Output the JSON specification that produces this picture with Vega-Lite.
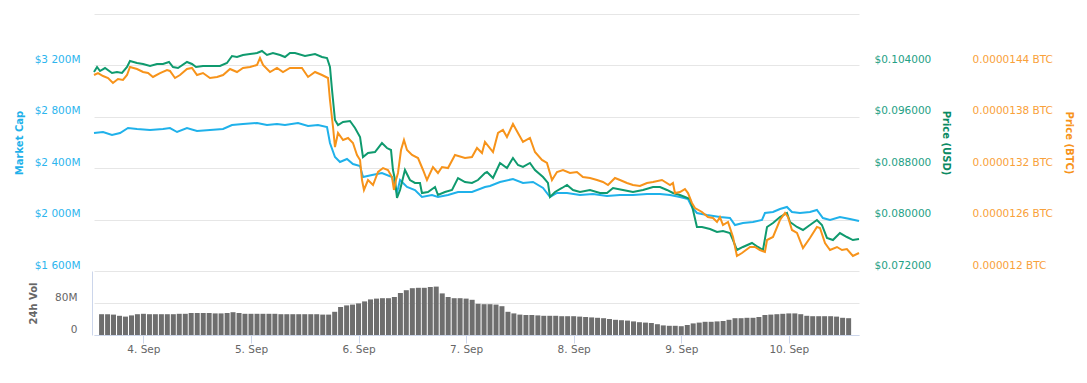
{
  "$schema": "https://vega.github.io/schema/vega-lite/v6.json",
  "background": "white",
  "padding": {"left": 14, "top": 14, "right": 5, "bottom": 5},
  "spacing": 0,
  "bounds": "flush",
  "config": {
    "view": {"stroke": null},
    "font": "DejaVu Sans",
    "axis": {"labelFontSize": 10.5, "titleFontSize": 10, "titleFontWeight": "bold", "ticks": false, "domain": false, "gridColor": "#e6e6e6", "gridWidth": 1}
  },
  "datasets": {
    "marketCap": [
      {"day":3.587,"mcap":2673.9},{"day":3.670,"mcap":2681.7},{"day":3.752,"mcap":2658.3},{"day":3.826,"mcap":2673.9},{"day":3.899,"mcap":2712.8},{"day":3.982,"mcap":2705.1},{"day":4.101,"mcap":2697.3},{"day":4.220,"mcap":2705.1},{"day":4.284,"mcap":2712.8},{"day":4.349,"mcap":2681.7},{"day":4.440,"mcap":2712.8},{"day":4.532,"mcap":2689.5},{"day":4.651,"mcap":2697.3},{"day":4.771,"mcap":2705.1},{"day":4.853,"mcap":2736.2},{"day":4.954,"mcap":2744.0},{"day":5.083,"mcap":2751.8},{"day":5.174,"mcap":2736.2},{"day":5.266,"mcap":2744.0},{"day":5.339,"mcap":2736.2},{"day":5.459,"mcap":2751.8},{"day":5.551,"mcap":2728.4},{"day":5.642,"mcap":2736.2},{"day":5.725,"mcap":2720.6},{"day":5.752,"mcap":2596.1},{"day":5.798,"mcap":2487.2},{"day":5.844,"mcap":2448.2},{"day":5.908,"mcap":2471.6},{"day":5.963,"mcap":2432.7},{"day":6.028,"mcap":2417.1},{"day":6.055,"mcap":2331.5},{"day":6.138,"mcap":2347.1},{"day":6.229,"mcap":2362.6},{"day":6.321,"mcap":2331.5},{"day":6.367,"mcap":2207.0},{"day":6.395,"mcap":2308.2},{"day":6.459,"mcap":2253.7},{"day":6.532,"mcap":2230.3},{"day":6.596,"mcap":2175.9},{"day":6.688,"mcap":2191.4},{"day":6.743,"mcap":2175.9},{"day":6.835,"mcap":2191.4},{"day":6.927,"mcap":2214.8},{"day":7.055,"mcap":2214.8},{"day":7.174,"mcap":2253.7},{"day":7.220,"mcap":2261.5},{"day":7.312,"mcap":2292.6},{"day":7.431,"mcap":2316.0},{"day":7.523,"mcap":2284.8},{"day":7.615,"mcap":2292.6},{"day":7.707,"mcap":2245.9},{"day":7.771,"mcap":2175.9},{"day":7.835,"mcap":2207.0},{"day":7.927,"mcap":2207.0},{"day":8.046,"mcap":2191.4},{"day":8.165,"mcap":2199.2},{"day":8.294,"mcap":2183.7},{"day":8.413,"mcap":2191.4},{"day":8.532,"mcap":2191.4},{"day":8.661,"mcap":2199.2},{"day":8.780,"mcap":2199.2},{"day":8.872,"mcap":2191.4},{"day":8.963,"mcap":2175.9},{"day":9.037,"mcap":2160.3},{"day":9.073,"mcap":2098.1},{"day":9.119,"mcap":2051.4},{"day":9.211,"mcap":2035.8},{"day":9.330,"mcap":2020.2},{"day":9.422,"mcap":2012.4},{"day":9.468,"mcap":1958.0},{"day":9.541,"mcap":1973.5},{"day":9.633,"mcap":1981.3},{"day":9.716,"mcap":1996.9},{"day":9.743,"mcap":2051.4},{"day":9.817,"mcap":2059.1},{"day":9.881,"mcap":2082.5},{"day":9.945,"mcap":2098.1},{"day":9.991,"mcap":2059.1},{"day":10.064,"mcap":2051.4},{"day":10.156,"mcap":2059.1},{"day":10.220,"mcap":2074.7},{"day":10.275,"mcap":2012.4},{"day":10.340,"mcap":1996.9},{"day":10.431,"mcap":2020.2},{"day":10.523,"mcap":2004.7},{"day":10.606,"mcap":1989.1}
    ],
    "priceUsd": [
      {"day":3.587,"usd":0.10297},{"day":3.615,"usd":0.10375},{"day":3.642,"usd":0.10313},{"day":3.688,"usd":0.10359},{"day":3.752,"usd":0.10282},{"day":3.798,"usd":0.10297},{"day":3.844,"usd":0.10282},{"day":3.890,"usd":0.10375},{"day":3.917,"usd":0.10468},{"day":3.982,"usd":0.10437},{"day":4.037,"usd":0.10422},{"day":4.101,"usd":0.10391},{"day":4.165,"usd":0.10422},{"day":4.220,"usd":0.10422},{"day":4.275,"usd":0.10453},{"day":4.312,"usd":0.10375},{"day":4.358,"usd":0.10359},{"day":4.440,"usd":0.10453},{"day":4.486,"usd":0.10422},{"day":4.523,"usd":0.10375},{"day":4.587,"usd":0.10391},{"day":4.651,"usd":0.10391},{"day":4.743,"usd":0.10391},{"day":4.807,"usd":0.10437},{"day":4.853,"usd":0.10546},{"day":4.899,"usd":0.10531},{"day":4.954,"usd":0.10562},{"day":5.018,"usd":0.10577},{"day":5.083,"usd":0.10593},{"day":5.128,"usd":0.10624},{"day":5.174,"usd":0.10562},{"day":5.229,"usd":0.10593},{"day":5.294,"usd":0.10562},{"day":5.339,"usd":0.10531},{"day":5.385,"usd":0.10593},{"day":5.431,"usd":0.10593},{"day":5.523,"usd":0.10546},{"day":5.615,"usd":0.10577},{"day":5.679,"usd":0.10531},{"day":5.725,"usd":0.10515},{"day":5.752,"usd":0.10375},{"day":5.771,"usd":0.10017},{"day":5.798,"usd":0.09550},{"day":5.826,"usd":0.09472},{"day":5.872,"usd":0.09519},{"day":5.936,"usd":0.09535},{"day":5.982,"usd":0.09426},{"day":6.028,"usd":0.09286},{"day":6.055,"usd":0.08974},{"day":6.101,"usd":0.09037},{"day":6.165,"usd":0.09052},{"day":6.229,"usd":0.09192},{"day":6.275,"usd":0.09114},{"day":6.312,"usd":0.09083},{"day":6.330,"usd":0.08772},{"day":6.349,"usd":0.08616},{"day":6.367,"usd":0.08336},{"day":6.395,"usd":0.08461},{"day":6.440,"usd":0.08772},{"day":6.486,"usd":0.08616},{"day":6.532,"usd":0.08570},{"day":6.578,"usd":0.08570},{"day":6.596,"usd":0.08414},{"day":6.651,"usd":0.08430},{"day":6.716,"usd":0.08507},{"day":6.743,"usd":0.08383},{"day":6.807,"usd":0.08430},{"day":6.872,"usd":0.08461},{"day":6.927,"usd":0.08647},{"day":6.991,"usd":0.08585},{"day":7.055,"usd":0.08570},{"day":7.110,"usd":0.08616},{"day":7.174,"usd":0.08725},{"day":7.193,"usd":0.08741},{"day":7.248,"usd":0.08647},{"day":7.312,"usd":0.08881},{"day":7.376,"usd":0.08803},{"day":7.431,"usd":0.08959},{"day":7.477,"usd":0.08850},{"day":7.523,"usd":0.08819},{"day":7.587,"usd":0.08881},{"day":7.633,"usd":0.08772},{"day":7.707,"usd":0.08663},{"day":7.752,"usd":0.08570},{"day":7.771,"usd":0.08352},{"day":7.817,"usd":0.08430},{"day":7.881,"usd":0.08492},{"day":7.927,"usd":0.08539},{"day":7.982,"usd":0.08461},{"day":8.046,"usd":0.08430},{"day":8.138,"usd":0.08461},{"day":8.229,"usd":0.08414},{"day":8.294,"usd":0.08414},{"day":8.349,"usd":0.08492},{"day":8.440,"usd":0.08461},{"day":8.532,"usd":0.08430},{"day":8.624,"usd":0.08461},{"day":8.716,"usd":0.08507},{"day":8.780,"usd":0.08507},{"day":8.844,"usd":0.08461},{"day":8.899,"usd":0.08414},{"day":8.963,"usd":0.08383},{"day":9.009,"usd":0.08352},{"day":9.055,"usd":0.08321},{"day":9.083,"usd":0.08149},{"day":9.119,"usd":0.07885},{"day":9.165,"usd":0.07885},{"day":9.239,"usd":0.07854},{"day":9.303,"usd":0.07807},{"day":9.358,"usd":0.07823},{"day":9.422,"usd":0.07791},{"day":9.450,"usd":0.07682},{"day":9.486,"usd":0.07527},{"day":9.541,"usd":0.07574},{"day":9.624,"usd":0.07636},{"day":9.679,"usd":0.07574},{"day":9.725,"usd":0.07527},{"day":9.762,"usd":0.07885},{"day":9.817,"usd":0.07947},{"day":9.881,"usd":0.08040},{"day":9.945,"usd":0.08103},{"day":9.973,"usd":0.07963},{"day":10.037,"usd":0.07885},{"day":10.092,"usd":0.07838},{"day":10.156,"usd":0.07916},{"day":10.220,"usd":0.07994},{"day":10.266,"usd":0.07916},{"day":10.312,"usd":0.07714},{"day":10.367,"usd":0.07682},{"day":10.431,"usd":0.07791},{"day":10.495,"usd":0.07729},{"day":10.550,"usd":0.07682},{"day":10.606,"usd":0.07698}
    ],
    "priceBtc": [
      {"day":3.587,"btc":0.000014288},{"day":3.624,"btc":0.000014311},{"day":3.670,"btc":0.000014276},{"day":3.716,"btc":0.000014253},{"day":3.761,"btc":0.000014195},{"day":3.807,"btc":0.000014241},{"day":3.853,"btc":0.000014230},{"day":3.890,"btc":0.000014288},{"day":3.917,"btc":0.000014381},{"day":3.982,"btc":0.000014358},{"day":4.037,"btc":0.000014323},{"day":4.083,"btc":0.000014311},{"day":4.128,"btc":0.000014265},{"day":4.193,"btc":0.000014311},{"day":4.257,"btc":0.000014346},{"day":4.284,"btc":0.000014335},{"day":4.330,"btc":0.000014253},{"day":4.376,"btc":0.000014288},{"day":4.440,"btc":0.000014358},{"day":4.486,"btc":0.000014370},{"day":4.532,"btc":0.000014288},{"day":4.587,"btc":0.000014311},{"day":4.651,"btc":0.000014253},{"day":4.716,"btc":0.000014265},{"day":4.771,"btc":0.000014288},{"day":4.835,"btc":0.000014358},{"day":4.899,"btc":0.000014323},{"day":4.954,"btc":0.000014370},{"day":5.018,"btc":0.000014381},{"day":5.083,"btc":0.000014405},{"day":5.110,"btc":0.000014486},{"day":5.138,"btc":0.000014405},{"day":5.202,"btc":0.000014323},{"day":5.266,"btc":0.000014370},{"day":5.321,"btc":0.000014323},{"day":5.385,"btc":0.000014370},{"day":5.431,"btc":0.000014370},{"day":5.495,"btc":0.000014370},{"day":5.551,"btc":0.000014265},{"day":5.615,"btc":0.000014323},{"day":5.679,"btc":0.000014288},{"day":5.734,"btc":0.000014253},{"day":5.752,"btc":0.000013996},{"day":5.780,"btc":0.000013681},{"day":5.798,"btc":0.000013447},{"day":5.826,"btc":0.000013611},{"day":5.872,"btc":0.000013529},{"day":5.918,"btc":0.000013553},{"day":5.963,"btc":0.000013494},{"day":6.000,"btc":0.000013354},{"day":6.028,"btc":0.000013296},{"day":6.046,"btc":0.000013062},{"day":6.064,"btc":0.000012946},{"day":6.101,"btc":0.000013062},{"day":6.147,"btc":0.000013004},{"day":6.193,"btc":0.000013156},{"day":6.239,"btc":0.000013202},{"day":6.284,"btc":0.000013179},{"day":6.321,"btc":0.000013097},{"day":6.339,"btc":0.000012946},{"day":6.358,"btc":0.000013062},{"day":6.376,"btc":0.000013144},{"day":6.404,"btc":0.000013412},{"day":6.431,"btc":0.000013529},{"day":6.459,"btc":0.000013412},{"day":6.505,"btc":0.000013354},{"day":6.560,"btc":0.000013319},{"day":6.606,"btc":0.000013179},{"day":6.642,"btc":0.000013062},{"day":6.697,"btc":0.000013214},{"day":6.743,"btc":0.000013144},{"day":6.780,"btc":0.000013214},{"day":6.835,"btc":0.000013202},{"day":6.899,"btc":0.000013354},{"day":6.991,"btc":0.000013319},{"day":7.055,"btc":0.000013331},{"day":7.101,"btc":0.000013436},{"day":7.147,"btc":0.000013377},{"day":7.174,"btc":0.000013506},{"day":7.248,"btc":0.000013389},{"day":7.294,"btc":0.000013611},{"day":7.339,"btc":0.000013646},{"day":7.376,"btc":0.000013564},{"day":7.431,"btc":0.000013716},{"day":7.477,"btc":0.000013611},{"day":7.523,"btc":0.000013506},{"day":7.587,"btc":0.000013553},{"day":7.633,"btc":0.000013389},{"day":7.697,"btc":0.000013296},{"day":7.743,"btc":0.000013261},{"day":7.789,"btc":0.000013062},{"day":7.835,"btc":0.000013156},{"day":7.890,"btc":0.000013179},{"day":7.954,"btc":0.000013144},{"day":8.018,"btc":0.000013156},{"day":8.073,"btc":0.000013097},{"day":8.138,"btc":0.000013086},{"day":8.202,"btc":0.000013062},{"day":8.257,"btc":0.000013039},{"day":8.303,"btc":0.000013004},{"day":8.367,"btc":0.000013086},{"day":8.413,"btc":0.000013062},{"day":8.477,"btc":0.000013027},{"day":8.532,"btc":0.000013004},{"day":8.596,"btc":0.000012992},{"day":8.661,"btc":0.000013027},{"day":8.716,"btc":0.000013039},{"day":8.798,"btc":0.000013062},{"day":8.872,"btc":0.000013004},{"day":8.899,"btc":0.000013027},{"day":8.917,"btc":0.000012910},{"day":8.963,"btc":0.000012922},{"day":9.009,"btc":0.000012957},{"day":9.037,"btc":0.000012910},{"day":9.073,"btc":0.000012794},{"day":9.101,"btc":0.000012735},{"day":9.165,"btc":0.000012689},{"day":9.220,"btc":0.000012630},{"day":9.266,"btc":0.000012619},{"day":9.303,"btc":0.000012572},{"day":9.330,"btc":0.000012630},{"day":9.358,"btc":0.000012537},{"day":9.404,"btc":0.000012572},{"day":9.450,"btc":0.000012397},{"day":9.486,"btc":0.000012175},{"day":9.532,"btc":0.000012210},{"day":9.606,"btc":0.000012280},{"day":9.651,"btc":0.000012280},{"day":9.697,"btc":0.000012245},{"day":9.743,"btc":0.000012222},{"day":9.762,"btc":0.000012362},{"day":9.817,"btc":0.000012397},{"day":9.881,"btc":0.000012595},{"day":9.927,"btc":0.000012677},{"day":9.954,"btc":0.000012630},{"day":9.991,"btc":0.000012479},{"day":10.037,"btc":0.000012444},{"day":10.092,"btc":0.000012268},{"day":10.156,"btc":0.000012385},{"day":10.220,"btc":0.000012514},{"day":10.248,"btc":0.000012502},{"day":10.294,"btc":0.000012327},{"day":10.340,"btc":0.000012245},{"day":10.404,"btc":0.000012280},{"day":10.450,"btc":0.000012245},{"day":10.495,"btc":0.000012257},{"day":10.550,"btc":0.000012175},{"day":10.606,"btc":0.000012210}
    ],
    "volume": [
      {"day":3.611,"vol":52},{"day":3.667,"vol":52},{"day":3.722,"vol":51},{"day":3.778,"vol":48},{"day":3.833,"vol":46},{"day":3.889,"vol":49},{"day":3.944,"vol":52},{"day":4.000,"vol":53},{"day":4.056,"vol":52},{"day":4.111,"vol":52},{"day":4.167,"vol":52},{"day":4.222,"vol":52},{"day":4.278,"vol":52},{"day":4.333,"vol":53},{"day":4.389,"vol":53},{"day":4.444,"vol":55},{"day":4.500,"vol":55},{"day":4.556,"vol":55},{"day":4.611,"vol":55},{"day":4.667,"vol":54},{"day":4.722,"vol":54},{"day":4.778,"vol":55},{"day":4.833,"vol":57},{"day":4.889,"vol":55},{"day":4.944,"vol":53},{"day":5.000,"vol":53},{"day":5.056,"vol":53},{"day":5.111,"vol":53},{"day":5.167,"vol":53},{"day":5.222,"vol":53},{"day":5.278,"vol":52},{"day":5.333,"vol":52},{"day":5.389,"vol":52},{"day":5.444,"vol":52},{"day":5.500,"vol":52},{"day":5.556,"vol":52},{"day":5.611,"vol":52},{"day":5.667,"vol":51},{"day":5.722,"vol":51},{"day":5.778,"vol":58},{"day":5.833,"vol":70},{"day":5.889,"vol":74},{"day":5.944,"vol":76},{"day":6.000,"vol":79},{"day":6.056,"vol":84},{"day":6.111,"vol":89},{"day":6.167,"vol":91},{"day":6.222,"vol":92},{"day":6.278,"vol":92},{"day":6.333,"vol":95},{"day":6.389,"vol":105},{"day":6.444,"vol":112},{"day":6.500,"vol":117},{"day":6.556,"vol":118},{"day":6.611,"vol":118},{"day":6.667,"vol":120},{"day":6.722,"vol":121},{"day":6.778,"vol":104},{"day":6.833,"vol":95},{"day":6.889,"vol":92},{"day":6.944,"vol":92},{"day":7.000,"vol":91},{"day":7.056,"vol":88},{"day":7.111,"vol":78},{"day":7.167,"vol":77},{"day":7.222,"vol":77},{"day":7.278,"vol":76},{"day":7.333,"vol":72},{"day":7.389,"vol":58},{"day":7.444,"vol":54},{"day":7.500,"vol":51},{"day":7.556,"vol":50},{"day":7.611,"vol":50},{"day":7.667,"vol":49},{"day":7.722,"vol":48},{"day":7.778,"vol":48},{"day":7.833,"vol":48},{"day":7.889,"vol":47},{"day":7.944,"vol":47},{"day":8.000,"vol":47},{"day":8.056,"vol":46},{"day":8.111,"vol":45},{"day":8.167,"vol":44},{"day":8.222,"vol":43},{"day":8.278,"vol":42},{"day":8.333,"vol":40},{"day":8.389,"vol":38},{"day":8.444,"vol":37},{"day":8.500,"vol":36},{"day":8.556,"vol":34},{"day":8.611,"vol":32},{"day":8.667,"vol":31},{"day":8.722,"vol":30},{"day":8.778,"vol":27},{"day":8.833,"vol":24},{"day":8.889,"vol":23},{"day":8.944,"vol":23},{"day":9.000,"vol":22},{"day":9.056,"vol":25},{"day":9.111,"vol":29},{"day":9.167,"vol":31},{"day":9.222,"vol":33},{"day":9.278,"vol":33},{"day":9.333,"vol":34},{"day":9.389,"vol":35},{"day":9.444,"vol":38},{"day":9.500,"vol":42},{"day":9.556,"vol":42},{"day":9.611,"vol":43},{"day":9.667,"vol":43},{"day":9.722,"vol":45},{"day":9.778,"vol":50},{"day":9.833,"vol":51},{"day":9.889,"vol":52},{"day":9.944,"vol":53},{"day":10.000,"vol":54},{"day":10.056,"vol":54},{"day":10.111,"vol":52},{"day":10.167,"vol":48},{"day":10.222,"vol":47},{"day":10.278,"vol":47},{"day":10.333,"vol":47},{"day":10.389,"vol":47},{"day":10.444,"vol":46},{"day":10.500,"vol":43},{"day":10.556,"vol":42}
    ]
  },
  "vconcat": [
    {
      "width": 765,
      "height": 257,
      "layer": [
        {
          "data": {"name": "marketCap"},
          "mark": {"type": "line", "color": "#1fb1ea", "strokeWidth": 2},
          "encoding": {
            "x": {"field": "day", "type": "quantitative", "scale": {"domain": [3.587, 10.606], "nice": false, "zero": false}, "axis": null},
            "y": {"field": "mcap", "type": "quantitative", "scale": {"domain": [1600, 3600], "nice": false, "zero": false},
              "axis": {"orient": "left", "title": "Market Cap", "titleColor": "#1fb1ea", "labelColor": "#2db5ee", "values": [1600, 2000, 2400, 2800, 3200, 3600], "labelExpr": "datum.value == 3600 ? '' : '$' + replace(format(datum.value, ','), ',', ' ') + 'M'", "grid": true, "labelPadding": 14, "titlePadding": 10, "labelOffset": -6}}
          }
        },
        {
          "data": {"name": "priceUsd"},
          "mark": {"type": "line", "color": "#0f9a6e", "strokeWidth": 2},
          "encoding": {
            "x": {"field": "day", "type": "quantitative"},
            "y": {"field": "usd", "type": "quantitative", "scale": {"domain": [0.072, 0.112], "nice": false, "zero": false},
              "axis": {"orient": "right", "title": "Price (USD)", "titleColor": "#0b8a62", "labelColor": "#24a085", "values": [0.072, 0.08, 0.088, 0.096, 0.104, 0.112], "labelExpr": "datum.value > 0.111 ? '' : '$' + format(datum.value, '.6f')", "grid": false, "labelPadding": 15, "titlePadding": 10, "labelOffset": -6}}
          }
        },
        {
          "data": {"name": "priceBtc"},
          "mark": {"type": "line", "color": "#f7931a", "strokeWidth": 2},
          "encoding": {
            "x": {"field": "day", "type": "quantitative"},
            "y": {"field": "btc", "type": "quantitative", "scale": {"domain": [0.000012, 0.000015], "nice": false, "zero": false},
              "axis": {"orient": "right", "offset": 98, "title": "Price (BTC)", "titleColor": "#f7931a", "labelColor": "#f9a13a", "values": [0.000012, 0.0000126, 0.0000132, 0.0000138, 0.0000144, 0.000015], "labelExpr": "datum.value > 0.0000149 ? '' : (datum.value < 0.0000121 ? '0.000012 BTC' : format(datum.value, '.7f') + ' BTC')", "grid": false, "labelPadding": 15, "titlePadding": 11, "labelOffset": -6}}
          }
        }
      ],
      "resolve": {"scale": {"y": "independent"}}
    },
    {
      "width": 765,
      "height": 64,
      "data": {"name": "volume"},
      "mark": {"type": "bar", "size": 5, "color": "#6e6e6e"},
      "encoding": {
        "x": {"field": "day", "type": "quantitative", "scale": {"domain": [3.587, 10.606], "nice": false, "zero": false},
          "axis": {"values": [4, 5, 6, 7, 8, 9, 10], "labelExpr": "datum.value + '. Sep'", "title": null, "domain": true, "domainColor": "#ccd6eb", "ticks": true, "tickColor": "#ccd6eb", "tickSize": 8, "labelPadding": 1, "labelColor": "#666666", "grid": false, "labelFlush": false}},
        "y": {"field": "vol", "type": "quantitative", "scale": {"domain": [0, 160], "nice": false},
          "axis": {"values": [0, 80], "labelExpr": "datum.value == 0 ? '0' : datum.value + 'M'", "title": "24h Vol", "titleColor": "#666666", "labelColor": "#666666", "grid": true, "domain": true, "domainColor": "#ccd6eb", "offset": 2, "labelPadding": 15, "titlePadding": 16, "labelOffset": -6}}
      }
    }
  ]
}
